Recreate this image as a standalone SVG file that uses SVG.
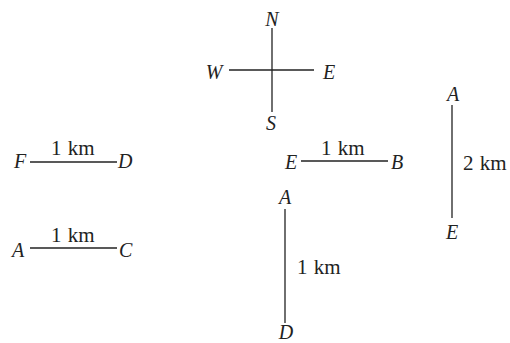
<svg xmlns="http://www.w3.org/2000/svg" width="510" height="343" viewBox="0 0 510 343">
<style>
.l{stroke:#222;stroke-width:1.3;fill:none}
.v{font-family:"Liberation Serif","DejaVu Serif",serif;font-style:italic;font-size:20px;fill:#222}
.k{font-family:"Liberation Serif","DejaVu Serif",serif;font-size:21px;fill:#222;word-spacing:1px}
.m{text-anchor:middle}
</style>
<rect width="510" height="343" fill="#fff"/>
<g id="connectors">
<line class="l" x1="272" y1="28" x2="272" y2="112"/>
<line class="l" x1="229" y1="70" x2="314" y2="70"/>
<line class="l" x1="30" y1="162" x2="117" y2="162"/>
<line class="l" x1="30" y1="248" x2="117" y2="248"/>
<line class="l" x1="301" y1="161" x2="388" y2="161"/>
<line class="l" x1="285" y1="209" x2="285" y2="323"/>
<line class="l" x1="452" y1="105" x2="452" y2="218"/>
</g>
<g id="compass">
<text class="v m" x="272" y="26">N</text>
<text class="v m" x="214" y="79">W</text>
<text class="v m" x="329" y="79">E</text>
<text class="v m" x="271" y="130">S</text>
</g>
<g id="FD">
<text class="v" x="14" y="168">F</text>
<text class="v" x="118" y="168">D</text>
<text class="k" x="51" y="155">1 km</text>
</g>
<g id="AC">
<text class="v" x="12" y="257">A</text>
<text class="v" x="119" y="257">C</text>
<text class="k" x="51" y="242">1 km</text>
</g>
<g id="EB">
<text class="v" x="285" y="169">E</text>
<text class="v" x="391" y="169">B</text>
<text class="k" x="321" y="155">1 km</text>
</g>
<g id="AD">
<text class="v m" x="285" y="204">A</text>
<text class="v m" x="286" y="339">D</text>
<text class="k" x="297" y="274">1 km</text>
</g>
<g id="AE">
<text class="v m" x="453" y="101">A</text>
<text class="v m" x="452" y="239">E</text>
<text class="k" x="463" y="170">2 km</text>
</g>
</svg>
